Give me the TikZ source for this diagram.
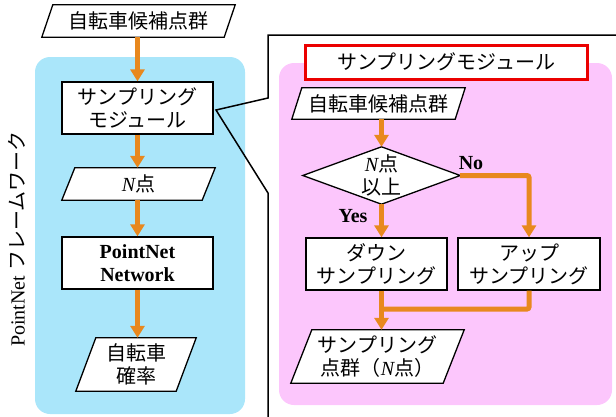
\documentclass[tikz,border=0pt]{standalone}
\usepackage{fontspec}
\setmainfont{Liberation Serif}
\newfontfamily\jp{Noto Sans CJK JP}
\usetikzlibrary{arrows.meta,calc}
\definecolor{fwblue}{RGB}{170,230,250}
\definecolor{smpink}{RGB}{252,198,252}
\definecolor{flow}{RGB}{232,136,30}
\definecolor{titlered}{RGB}{235,0,0}
\pgfdeclarelayer{bg}
\pgfdeclarelayer{mid}
\pgfsetlayers{bg,mid,main}
\newcommand\NN{{\rmfamily\itshape N}}
\newcommand\drawpara[2]{\begin{pgfonlayer}{mid}\draw[line width=1.3pt,fill=white] ([xshift=#2]#1.north west) -- (#1.north east) -- ([xshift=-#2]#1.south east) -- (#1.south west) -- cycle;\end{pgfonlayer}}
\begin{document}
\begin{tikzpicture}[x=1pt,y=-1pt,
  font=\fontsize{20}{23}\selectfont,
  jpt/.style={font=\fontsize{20}{23}\selectfont\jp},
  box/.style={draw,line width=1.3pt,fill=white,align=center,inner sep=0pt},
  paranode/.style={inner sep=0pt,align=center},
  arr/.style={draw=flow,line width=5pt,-{Triangle[length=12pt,width=14pt]}},
  flowline/.style={draw=flow,line width=5pt},
  lbl/.style={font=\fontsize{20}{23}\selectfont\bfseries,inner sep=0pt}]
\useasboundingbox (0,0) rectangle (616,416);
\begin{pgfonlayer}{bg}
  \fill[fwblue,rounded corners=15pt] (35,57) rectangle (245,414);
  \fill[smpink,rounded corners=15pt] (279,63) rectangle (612,405);
\end{pgfonlayer}
% left column
\node[paranode,jpt,minimum width=193pt,minimum height=32pt] (top) at (138.5,21) {自転車候補点群};
\drawpara{top}{11pt}
\node[box,jpt,minimum width=151pt,minimum height=52pt] (samp) at (137.5,108) {サンプリング\\モジュール};
\node[paranode,jpt,minimum width=153pt,minimum height=32pt] (np) at (138.5,184) {\NN 点};
\drawpara{np}{13pt}
\node[box,minimum width=151pt,minimum height=52pt,font=\fontsize{20}{23}\selectfont\bfseries] (pn) at (137.5,263) {PointNet\\Network};
\node[paranode,jpt,minimum width=120pt,minimum height=53pt] (prob) at (136,364.5) {自転車\\確率};
\drawpara{prob}{20pt}
\node[rotate=90,inner sep=0pt] (fw) at (17,239) {PointNet {\jp フレームワーク}};
\draw[arr] (top.south -| samp.north) -- (samp.north);
\draw[arr] (samp.south) -- (samp.south |- np.north);
\draw[arr] (samp.south |- np.south) -- (pn.north);
\draw[arr] (pn.south) -- (pn.south |- prob.north);
% callout
\coordinate (tip) at (216,110);
\begin{scope}
  \clip (0,0) rectangle (616,416);
  \draw[line width=1.5pt,line join=miter] (268,430) -- (268,193) -- (tip) -- (268,98) -- (268,35) -- (630,35);
\end{scope}
% right panel
\node[box,jpt,draw=titlered,line width=3pt,minimum width=282pt,minimum height=34pt] (title) at (446,62) {サンプリングモジュール};
\node[paranode,jpt,minimum width=173pt,minimum height=31pt] (sin) at (378.5,103.5) {自転車候補点群};
\drawpara{sin}{10pt}
\node[paranode,jpt,minimum width=157pt,minimum height=57pt] (dia) at (381.5,175.5) {\NN 点\\以上};
\begin{pgfonlayer}{mid}
  \draw[line width=1.3pt,fill=white] (dia.north) -- (dia.east) -- (dia.south) -- (dia.west) -- cycle;
\end{pgfonlayer}
\node[box,jpt,minimum width=141pt,minimum height=52pt] (down) at (376.5,264) {ダウン\\サンプリング};
\node[box,jpt,minimum width=142pt,minimum height=52pt] (up) at (529,264) {アップ\\サンプリング};
\node[paranode,jpt,minimum width=173pt,minimum height=53pt] (out) at (377.5,356.5) {サンプリング\\点群（\NN 点）};
\drawpara{out}{21pt}
\draw[arr] (dia.north |- sin.south) -- (dia.north);
\draw[arr] (dia.south) -- (dia.south |- down.north);
\draw[arr,rounded corners=2pt] (dia.east) -| (up.north);
\coordinate (m) at (381.5,309);
\draw[flowline,rounded corners=2pt] (up.south) |- (m);
\draw[arr] (dia.south |- down.south) -- (dia.south |- out.north);
\node[lbl] (yes) at (353,216) {Yes};
\node[lbl] (no) at (471,163) {No};
\end{tikzpicture}
\end{document}
